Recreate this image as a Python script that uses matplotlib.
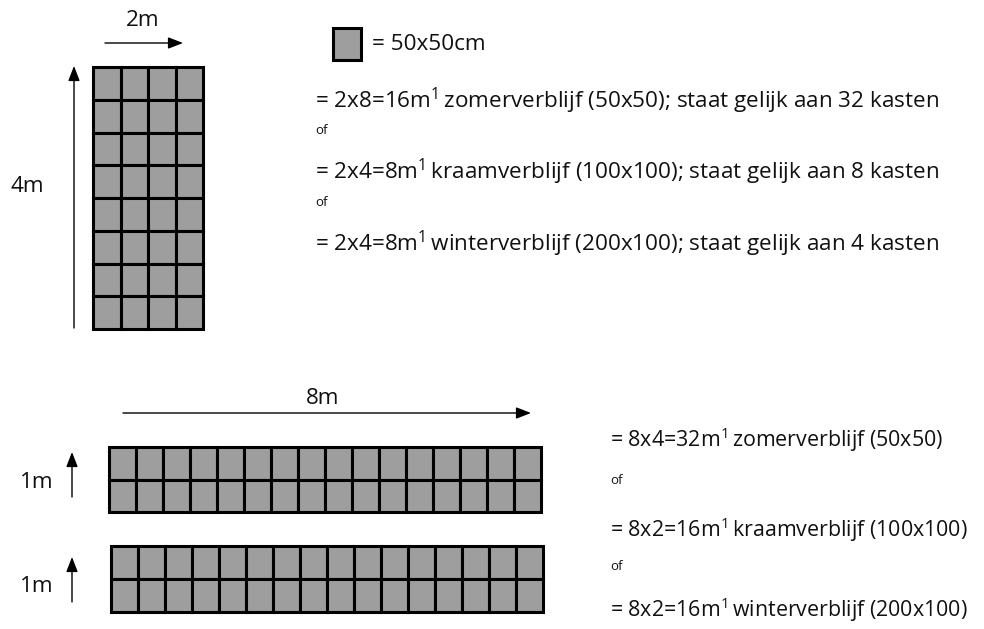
import matplotlib
matplotlib.use("Agg")
import matplotlib.pyplot as plt
from matplotlib.patches import Rectangle

FONT = "Open Sans"
plt.rcParams["mathtext.fontset"] = "custom"
plt.rcParams["mathtext.rm"] = FONT
plt.rcParams["mathtext.it"] = FONT + ":italic"
plt.rcParams["mathtext.bf"] = FONT + ":bold"

# grids of boxes (columns x rows of 50x50cm cells)
grid_cols = [4, 16, 16]
grid_rows = [8, 2, 2]

dim_labels = ["2m", "4m", "8m", "1m", "1m"]

legend_text = "= 50x50cm"
top_lines = [
    r"= 2x8=16m$^{\mathrm{1}}\,$zomerverblijf (50x50); staat gelijk aan 32 kasten",
    r"= 2x4=8m$^{\mathrm{1}}\,$kraamverblijf (100x100); staat gelijk aan 8 kasten",
    r"= 2x4=8m$^{\mathrm{1}}\,$winterverblijf (200x100); staat gelijk aan 4 kasten",
]
bottom_lines = [
    r"= 8x4=32m$^{\mathrm{1}}\,$zomerverblijf (50x50)",
    r"= 8x2=16m$^{\mathrm{1}}\,$kraamverblijf (100x100)",
    r"= 8x2=16m$^{\mathrm{1}}\,$winterverblijf (200x100)",
]
sep_word = "of"

FILL = "#9e9e9e"
FS = 16.2

fig = plt.figure(figsize=(9.84, 6.29), dpi=100)
ax = fig.add_axes([0, 0, 1, 1])
ax.set_xlim(0, 984)
ax.set_ylim(629, 0)
ax.axis("off")


def draw_grid(x0, y0, x1, y1, ncols, nrows):
    w = (x1 - x0) / ncols
    h = (y1 - y0) / nrows
    for r in range(nrows):
        for c in range(ncols):
            ax.add_patch(Rectangle((x0 + c * w, y0 + r * h), w, h,
                                   facecolor=FILL, edgecolor="black", lw=2.2))


def arrow(x0, y0, x1, y1):
    ax.annotate("", xy=(x1, y1), xytext=(x0, y0),
                arrowprops=dict(arrowstyle="-|>,head_length=0.9,head_width=0.35",
                                color="black", lw=1.0, shrinkA=0, shrinkB=0))


def label(x, y, s, size=FS, ha="left", va="center"):
    ax.text(x, y, s, fontsize=size, family=FONT, ha=ha, va=va,
            color="#111111")


# top block: 2m x 4m
draw_grid(93, 67, 203, 329, grid_cols[0], grid_rows[0])
arrow(105, 43, 183, 43)
arrow(74, 328, 74, 66)
label(143, 20, dim_labels[0], ha="center")
label(27, 187, dim_labels[1], ha="center")

# legend square
ax.add_patch(Rectangle((333, 28), 28, 32, facecolor=FILL, edgecolor="black", lw=2.2))
label(372, 44, legend_text)

top_y = [108, 179, 251]
for y, line in zip(top_y, top_lines):
    label(315, y, line, va="baseline")
for y in [130, 203]:
    label(315, y, sep_word, size=9.5)

# bottom blocks: 8m x 1m (twice)
arrow(123, 413, 531, 413)
label(323, 398, dim_labels[2], ha="center")
draw_grid(109, 447, 541, 512, grid_cols[1], grid_rows[1])
draw_grid(111, 546, 543, 612, grid_cols[2], grid_rows[2])
arrow(72, 497, 72, 452)
arrow(72, 602, 72, 557)
label(37, 483, dim_labels[3], ha="center")
label(37, 587, dim_labels[4], ha="center")

bottom_y = [447, 537, 617]
for y, line in zip(bottom_y, bottom_lines):
    label(610, y, line, size=15.4, va="baseline")
for y in [480, 567]:
    label(610, y, sep_word, size=9.5)

fig.savefig("out.png", dpi=100, facecolor="white")
